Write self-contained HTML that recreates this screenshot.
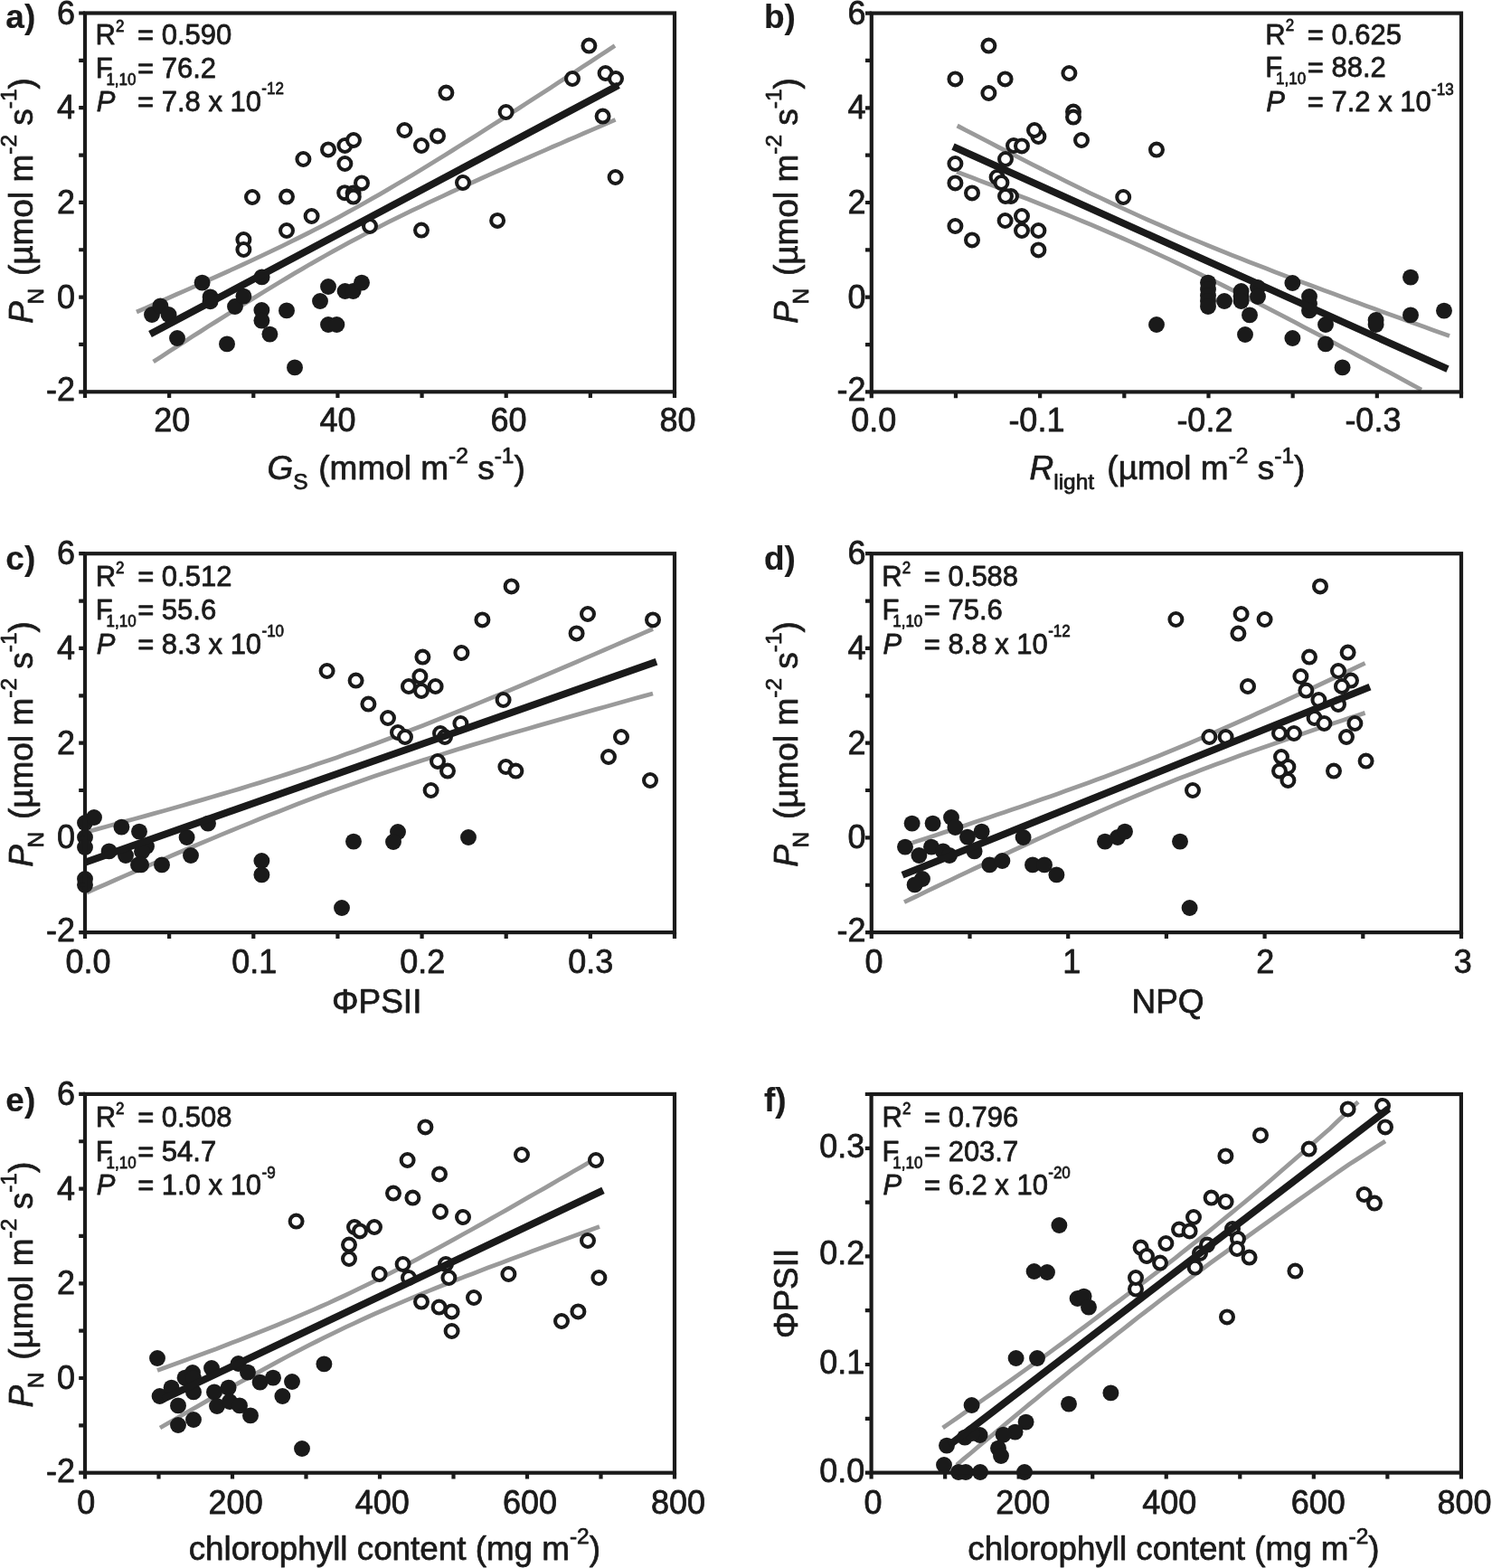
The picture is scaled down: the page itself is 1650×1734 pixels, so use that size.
<!DOCTYPE html>
<html lang="en"><head><meta charset="utf-8"><title>Figure</title>
<style>html,body{margin:0;padding:0;background:#fff}svg{display:block}</style></head>
<body>
<svg width="1650" height="1734" viewBox="0 0 1650 1734" font-family="Liberation Sans, Arial, Helvetica, sans-serif" fill="#1a1a1a">
<style>text{stroke:#1a1a1a;stroke-width:0.75px;stroke-linejoin:round} .b{stroke-width:0.2px}</style>
<rect width="1650" height="1734" fill="#fff"/>
<defs>
<clipPath id="ca"><rect x="94.0" y="14.5" width="652.0" height="418.8"/></clipPath>
<clipPath id="cb"><rect x="963.8" y="14.6" width="652.2" height="418.79999999999995"/></clipPath>
<clipPath id="cc"><rect x="94.0" y="612.2" width="652.0" height="418.89999999999986"/></clipPath>
<clipPath id="cd"><rect x="963.8" y="612.2" width="652.2" height="418.89999999999986"/></clipPath>
<clipPath id="ce"><rect x="94.0" y="1209.9" width="652.0" height="418.79999999999995"/></clipPath>
<clipPath id="cf"><rect x="963.6" y="1210.0" width="652.3000000000001" height="418.5999999999999"/></clipPath>
</defs>
<g id="panel-a">
<path d="M151.0 345.0 L160.0 341.1 L168.9 337.2 L177.9 333.2 L186.9 329.3 L195.8 325.3 L204.8 321.4 L213.8 317.4 L222.7 313.4 L231.7 309.3 L240.7 305.3 L249.6 301.2 L258.6 297.1 L267.6 293.0 L276.5 288.8 L285.5 284.6 L294.5 280.4 L303.4 276.1 L312.4 271.8 L321.4 267.4 L330.3 263.0 L339.3 258.5 L348.3 253.9 L357.2 249.3 L366.2 244.6 L375.2 239.8 L384.1 234.9 L393.1 230.0 L402.1 225.0 L411.0 219.9 L420.0 214.8 L428.9 209.6 L437.9 204.3 L446.9 199.0 L455.8 193.7 L464.8 188.2 L473.8 182.8 L482.7 177.3 L491.7 171.7 L500.7 166.1 L509.6 160.5 L518.6 154.9 L527.6 149.2 L536.5 143.5 L545.5 137.8 L554.5 132.1 L563.4 126.3 L572.4 120.6 L581.4 114.8 L590.3 109.0 L599.3 103.2 L608.3 97.4 L617.2 91.6 L626.2 85.7 L635.2 79.9 L644.1 74.1 L653.1 68.2 L662.1 62.3 L671.0 56.5 L680.0 50.6" stroke="#9a9a9a" stroke-width="4.8" fill="none" clip-path="url(#ca)"/>
<path d="M169.6 400.0 L178.3 394.4 L186.9 388.8 L195.6 383.2 L204.2 377.7 L212.9 372.1 L221.6 366.6 L230.2 361.1 L238.9 355.6 L247.5 350.2 L256.2 344.7 L264.9 339.3 L273.5 333.9 L282.2 328.6 L290.9 323.3 L299.5 318.0 L308.2 312.8 L316.8 307.6 L325.5 302.4 L334.2 297.4 L342.8 292.3 L351.5 287.4 L360.1 282.5 L368.8 277.6 L377.5 272.9 L386.1 268.2 L394.8 263.6 L403.4 259.0 L412.1 254.5 L420.8 250.1 L429.4 245.7 L438.1 241.4 L446.8 237.2 L455.4 232.9 L464.1 228.8 L472.7 224.7 L481.4 220.6 L490.1 216.6 L498.7 212.5 L507.4 208.6 L516.0 204.6 L524.7 200.7 L533.4 196.8 L542.0 192.9 L550.7 189.0 L559.3 185.2 L568.0 181.3 L576.7 177.5 L585.3 173.7 L594.0 169.9 L602.7 166.1 L611.3 162.3 L620.0 158.6 L628.6 154.8 L637.3 151.1 L646.0 147.3 L654.6 143.6 L663.3 139.9 L671.9 136.1 L680.6 132.4" stroke="#9a9a9a" stroke-width="4.8" fill="none" clip-path="url(#ca)"/>
<circle cx="168.0" cy="348.0" r="8.95" fill="#1a1a1a"/>
<circle cx="177.4" cy="338.4" r="8.95" fill="#1a1a1a"/>
<circle cx="186.6" cy="348.0" r="8.95" fill="#1a1a1a"/>
<circle cx="196.0" cy="374.0" r="8.95" fill="#1a1a1a"/>
<circle cx="223.6" cy="312.6" r="8.95" fill="#1a1a1a"/>
<circle cx="232.6" cy="328.4" r="8.95" fill="#1a1a1a"/>
<circle cx="232.6" cy="333.2" r="8.95" fill="#1a1a1a"/>
<circle cx="251.0" cy="380.4" r="8.95" fill="#1a1a1a"/>
<circle cx="260.0" cy="339.0" r="8.95" fill="#1a1a1a"/>
<circle cx="269.4" cy="327.6" r="8.95" fill="#1a1a1a"/>
<circle cx="289.6" cy="306.4" r="8.95" fill="#1a1a1a"/>
<circle cx="289.4" cy="343.0" r="8.95" fill="#1a1a1a"/>
<circle cx="289.4" cy="354.6" r="8.95" fill="#1a1a1a"/>
<circle cx="298.4" cy="369.6" r="8.95" fill="#1a1a1a"/>
<circle cx="317.0" cy="343.4" r="8.95" fill="#1a1a1a"/>
<circle cx="326.0" cy="406.4" r="8.95" fill="#1a1a1a"/>
<circle cx="354.0" cy="333.0" r="8.95" fill="#1a1a1a"/>
<circle cx="363.0" cy="317.0" r="8.95" fill="#1a1a1a"/>
<circle cx="363.0" cy="359.0" r="8.95" fill="#1a1a1a"/>
<circle cx="372.4" cy="359.0" r="8.95" fill="#1a1a1a"/>
<circle cx="381.6" cy="322.0" r="8.95" fill="#1a1a1a"/>
<circle cx="390.6" cy="322.0" r="8.95" fill="#1a1a1a"/>
<circle cx="400.0" cy="312.6" r="8.95" fill="#1a1a1a"/>
<circle cx="269.4" cy="265.0" r="6.95" fill="#fff" stroke="#1a1a1a" stroke-width="4.1"/>
<circle cx="269.4" cy="276.0" r="6.95" fill="#fff" stroke="#1a1a1a" stroke-width="4.1"/>
<circle cx="317.0" cy="255.0" r="6.95" fill="#fff" stroke="#1a1a1a" stroke-width="4.1"/>
<circle cx="344.6" cy="239.0" r="6.95" fill="#fff" stroke="#1a1a1a" stroke-width="4.1"/>
<circle cx="409.0" cy="250.0" r="6.95" fill="#fff" stroke="#1a1a1a" stroke-width="4.1"/>
<circle cx="279.0" cy="218.0" r="6.95" fill="#fff" stroke="#1a1a1a" stroke-width="4.1"/>
<circle cx="317.0" cy="217.6" r="6.95" fill="#fff" stroke="#1a1a1a" stroke-width="4.1"/>
<circle cx="335.4" cy="176.0" r="6.95" fill="#fff" stroke="#1a1a1a" stroke-width="4.1"/>
<circle cx="363.0" cy="165.4" r="6.95" fill="#fff" stroke="#1a1a1a" stroke-width="4.1"/>
<circle cx="381.4" cy="161.0" r="6.95" fill="#fff" stroke="#1a1a1a" stroke-width="4.1"/>
<circle cx="391.0" cy="155.0" r="6.95" fill="#fff" stroke="#1a1a1a" stroke-width="4.1"/>
<circle cx="381.4" cy="181.0" r="6.95" fill="#fff" stroke="#1a1a1a" stroke-width="4.1"/>
<circle cx="381.2" cy="213.2" r="6.95" fill="#fff" stroke="#1a1a1a" stroke-width="4.1"/>
<circle cx="390.6" cy="213.6" r="6.95" fill="#fff" stroke="#1a1a1a" stroke-width="4.1"/>
<circle cx="390.8" cy="217.6" r="6.95" fill="#fff" stroke="#1a1a1a" stroke-width="4.1"/>
<circle cx="400.0" cy="202.4" r="6.95" fill="#fff" stroke="#1a1a1a" stroke-width="4.1"/>
<circle cx="447.4" cy="144.0" r="6.95" fill="#fff" stroke="#1a1a1a" stroke-width="4.1"/>
<circle cx="466.0" cy="161.0" r="6.95" fill="#fff" stroke="#1a1a1a" stroke-width="4.1"/>
<circle cx="484.0" cy="150.4" r="6.95" fill="#fff" stroke="#1a1a1a" stroke-width="4.1"/>
<circle cx="493.4" cy="102.6" r="6.95" fill="#fff" stroke="#1a1a1a" stroke-width="4.1"/>
<circle cx="512.0" cy="202.0" r="6.95" fill="#fff" stroke="#1a1a1a" stroke-width="4.1"/>
<circle cx="559.6" cy="124.0" r="6.95" fill="#fff" stroke="#1a1a1a" stroke-width="4.1"/>
<circle cx="633.0" cy="87.0" r="6.95" fill="#fff" stroke="#1a1a1a" stroke-width="4.1"/>
<circle cx="651.4" cy="50.6" r="6.95" fill="#fff" stroke="#1a1a1a" stroke-width="4.1"/>
<circle cx="669.6" cy="81.0" r="6.95" fill="#fff" stroke="#1a1a1a" stroke-width="4.1"/>
<circle cx="681.0" cy="87.0" r="6.95" fill="#fff" stroke="#1a1a1a" stroke-width="4.1"/>
<circle cx="666.6" cy="128.6" r="6.95" fill="#fff" stroke="#1a1a1a" stroke-width="4.1"/>
<circle cx="680.6" cy="196.0" r="6.95" fill="#fff" stroke="#1a1a1a" stroke-width="4.1"/>
<circle cx="466.0" cy="254.6" r="6.95" fill="#fff" stroke="#1a1a1a" stroke-width="4.1"/>
<circle cx="550.1" cy="243.9" r="6.95" fill="#fff" stroke="#1a1a1a" stroke-width="4.1"/>
<line x1="166" y1="369.60" x2="684" y2="94.20" stroke="#1a1a1a" stroke-width="7.9"/>
<rect x="94.00" y="14.50" width="652.00" height="418.80" fill="none" stroke="#1a1a1a" stroke-width="4.2"/>
<path d="M94.00 433.30v6.8M187.14 433.30v6.8M280.29 433.30v6.8M373.43 433.30v6.8M466.57 433.30v6.8M559.71 433.30v6.8M652.86 433.30v6.8M746.00 433.30v6.8M94.00 14.50h-6.8M94.00 66.85h-6.8M94.00 119.20h-6.8M94.00 171.55h-6.8M94.00 223.90h-6.8M94.00 276.25h-6.8M94.00 328.60h-6.8M94.00 380.95h-6.8M94.00 433.30h-6.8" stroke="#1a1a1a" stroke-width="4.2" fill="none"/>
<text transform="translate(170.20,476.90) scale(1,1.04)" font-size="36" text-anchor="start">20</text>
<text transform="translate(353.59,476.90) scale(1,1.04)" font-size="36" text-anchor="start">40</text>
<text transform="translate(542.60,476.90) scale(1,1.04)" font-size="36" text-anchor="start">60</text>
<text transform="translate(729.47,476.90) scale(1,1.04)" font-size="36" text-anchor="start">80</text>
<text transform="translate(83.00,26.50) scale(1,1.04)" font-size="36" text-anchor="end">6</text>
<text transform="translate(83.00,131.20) scale(1,1.04)" font-size="36" text-anchor="end">4</text>
<text transform="translate(83.00,235.90) scale(1,1.04)" font-size="36" text-anchor="end">2</text>
<text transform="translate(83.00,340.60) scale(1,1.04)" font-size="36" text-anchor="end">0</text>
<text transform="translate(83.00,443.10) scale(1,1.04)" font-size="36" text-anchor="end">-2</text>
</g>
<g id="panel-b">
<path d="M1058.6 139.0 L1067.8 143.8 L1077.1 148.6 L1086.3 153.4 L1095.5 158.2 L1104.7 163.0 L1114.0 167.7 L1123.2 172.4 L1132.4 177.1 L1141.6 181.8 L1150.9 186.5 L1160.1 191.1 L1169.3 195.7 L1178.6 200.3 L1187.8 204.8 L1197.0 209.3 L1206.2 213.8 L1215.5 218.2 L1224.7 222.5 L1233.9 226.9 L1243.1 231.2 L1252.4 235.4 L1261.6 239.6 L1270.8 243.7 L1280.1 247.8 L1289.3 251.8 L1298.5 255.8 L1307.7 259.7 L1317.0 263.6 L1326.2 267.4 L1335.4 271.2 L1344.6 275.0 L1353.9 278.7 L1363.1 282.4 L1372.3 286.0 L1381.5 289.7 L1390.8 293.3 L1400.0 296.8 L1409.2 300.4 L1418.5 303.9 L1427.7 307.4 L1436.9 310.9 L1446.1 314.3 L1455.4 317.8 L1464.6 321.2 L1473.8 324.6 L1483.0 328.0 L1492.3 331.4 L1501.5 334.8 L1510.7 338.2 L1520.0 341.6 L1529.2 344.9 L1538.4 348.3 L1547.6 351.6 L1556.9 355.0 L1566.1 358.3 L1575.3 361.6 L1584.5 365.0 L1593.8 368.3 L1603.0 371.6" stroke="#9a9a9a" stroke-width="4.8" fill="none" clip-path="url(#cb)"/>
<path d="M1058.0 190.0 L1066.7 193.3 L1075.4 196.6 L1084.1 199.9 L1092.8 203.2 L1101.6 206.6 L1110.3 209.9 L1119.0 213.3 L1127.7 216.7 L1136.4 220.1 L1145.1 223.6 L1153.8 227.0 L1162.5 230.5 L1171.3 234.0 L1180.0 237.5 L1188.7 241.1 L1197.4 244.7 L1206.1 248.3 L1214.8 252.0 L1223.5 255.7 L1232.2 259.5 L1240.9 263.3 L1249.7 267.1 L1258.4 271.0 L1267.1 274.9 L1275.8 278.9 L1284.5 282.9 L1293.2 286.9 L1301.9 291.0 L1310.6 295.2 L1319.4 299.4 L1328.1 303.6 L1336.8 307.9 L1345.5 312.2 L1354.2 316.5 L1362.9 320.9 L1371.6 325.3 L1380.3 329.7 L1389.1 334.1 L1397.8 338.6 L1406.5 343.1 L1415.2 347.6 L1423.9 352.2 L1432.6 356.7 L1441.3 361.3 L1450.0 365.9 L1458.7 370.4 L1467.5 375.1 L1476.2 379.7 L1484.9 384.3 L1493.6 388.9 L1502.3 393.6 L1511.0 398.2 L1519.7 402.9 L1528.4 407.6 L1537.2 412.2 L1545.9 416.9 L1554.6 421.6 L1563.3 426.3 L1572.0 431.0" stroke="#9a9a9a" stroke-width="4.8" fill="none" clip-path="url(#cb)"/>
<circle cx="1093.4" cy="50.6" r="6.95" fill="#fff" stroke="#1a1a1a" stroke-width="4.1"/>
<circle cx="1056.4" cy="87.4" r="6.95" fill="#fff" stroke="#1a1a1a" stroke-width="4.1"/>
<circle cx="1111.6" cy="87.4" r="6.95" fill="#fff" stroke="#1a1a1a" stroke-width="4.1"/>
<circle cx="1093.4" cy="103.0" r="6.95" fill="#fff" stroke="#1a1a1a" stroke-width="4.1"/>
<circle cx="1182.4" cy="81.0" r="6.95" fill="#fff" stroke="#1a1a1a" stroke-width="4.1"/>
<circle cx="1187.0" cy="123.6" r="6.95" fill="#fff" stroke="#1a1a1a" stroke-width="4.1"/>
<circle cx="1187.0" cy="129.6" r="6.95" fill="#fff" stroke="#1a1a1a" stroke-width="4.1"/>
<circle cx="1148.4" cy="151.0" r="6.95" fill="#fff" stroke="#1a1a1a" stroke-width="4.1"/>
<circle cx="1144.0" cy="144.0" r="6.95" fill="#fff" stroke="#1a1a1a" stroke-width="4.1"/>
<circle cx="1196.0" cy="155.0" r="6.95" fill="#fff" stroke="#1a1a1a" stroke-width="4.1"/>
<circle cx="1121.0" cy="161.0" r="6.95" fill="#fff" stroke="#1a1a1a" stroke-width="4.1"/>
<circle cx="1130.0" cy="161.4" r="6.95" fill="#fff" stroke="#1a1a1a" stroke-width="4.1"/>
<circle cx="1279.0" cy="165.6" r="6.95" fill="#fff" stroke="#1a1a1a" stroke-width="4.1"/>
<circle cx="1112.0" cy="176.0" r="6.95" fill="#fff" stroke="#1a1a1a" stroke-width="4.1"/>
<circle cx="1056.4" cy="181.0" r="6.95" fill="#fff" stroke="#1a1a1a" stroke-width="4.1"/>
<circle cx="1102.6" cy="196.0" r="6.95" fill="#fff" stroke="#1a1a1a" stroke-width="4.1"/>
<circle cx="1107.4" cy="202.0" r="6.95" fill="#fff" stroke="#1a1a1a" stroke-width="4.1"/>
<circle cx="1056.4" cy="202.4" r="6.95" fill="#fff" stroke="#1a1a1a" stroke-width="4.1"/>
<circle cx="1075.0" cy="213.4" r="6.95" fill="#fff" stroke="#1a1a1a" stroke-width="4.1"/>
<circle cx="1118.0" cy="217.0" r="6.95" fill="#fff" stroke="#1a1a1a" stroke-width="4.1"/>
<circle cx="1112.0" cy="217.0" r="6.95" fill="#fff" stroke="#1a1a1a" stroke-width="4.1"/>
<circle cx="1242.2" cy="218.0" r="6.95" fill="#fff" stroke="#1a1a1a" stroke-width="4.1"/>
<circle cx="1056.4" cy="250.0" r="6.95" fill="#fff" stroke="#1a1a1a" stroke-width="4.1"/>
<circle cx="1075.0" cy="265.4" r="6.95" fill="#fff" stroke="#1a1a1a" stroke-width="4.1"/>
<circle cx="1111.6" cy="244.0" r="6.95" fill="#fff" stroke="#1a1a1a" stroke-width="4.1"/>
<circle cx="1130.0" cy="239.0" r="6.95" fill="#fff" stroke="#1a1a1a" stroke-width="4.1"/>
<circle cx="1130.0" cy="255.0" r="6.95" fill="#fff" stroke="#1a1a1a" stroke-width="4.1"/>
<circle cx="1148.4" cy="255.0" r="6.95" fill="#fff" stroke="#1a1a1a" stroke-width="4.1"/>
<circle cx="1148.4" cy="276.4" r="6.95" fill="#fff" stroke="#1a1a1a" stroke-width="4.1"/>
<circle cx="1279.0" cy="359.0" r="8.95" fill="#1a1a1a"/>
<circle cx="1336.0" cy="312.6" r="8.95" fill="#1a1a1a"/>
<circle cx="1336.0" cy="320.0" r="8.95" fill="#1a1a1a"/>
<circle cx="1336.0" cy="327.0" r="8.95" fill="#1a1a1a"/>
<circle cx="1336.0" cy="333.0" r="8.95" fill="#1a1a1a"/>
<circle cx="1336.0" cy="339.0" r="8.95" fill="#1a1a1a"/>
<circle cx="1354.0" cy="333.0" r="8.95" fill="#1a1a1a"/>
<circle cx="1372.6" cy="322.0" r="8.95" fill="#1a1a1a"/>
<circle cx="1372.6" cy="327.5" r="8.95" fill="#1a1a1a"/>
<circle cx="1372.6" cy="333.0" r="8.95" fill="#1a1a1a"/>
<circle cx="1382.0" cy="348.4" r="8.95" fill="#1a1a1a"/>
<circle cx="1377.0" cy="370.0" r="8.95" fill="#1a1a1a"/>
<circle cx="1391.0" cy="318.0" r="8.95" fill="#1a1a1a"/>
<circle cx="1391.0" cy="328.0" r="8.95" fill="#1a1a1a"/>
<circle cx="1429.4" cy="313.0" r="8.95" fill="#1a1a1a"/>
<circle cx="1429.4" cy="374.0" r="8.95" fill="#1a1a1a"/>
<circle cx="1448.0" cy="328.0" r="8.95" fill="#1a1a1a"/>
<circle cx="1448.0" cy="336.0" r="8.95" fill="#1a1a1a"/>
<circle cx="1448.0" cy="343.4" r="8.95" fill="#1a1a1a"/>
<circle cx="1466.0" cy="359.0" r="8.95" fill="#1a1a1a"/>
<circle cx="1466.0" cy="380.4" r="8.95" fill="#1a1a1a"/>
<circle cx="1484.6" cy="406.4" r="8.95" fill="#1a1a1a"/>
<circle cx="1521.6" cy="354.0" r="8.95" fill="#1a1a1a"/>
<circle cx="1521.6" cy="359.0" r="8.95" fill="#1a1a1a"/>
<circle cx="1560.0" cy="306.6" r="8.95" fill="#1a1a1a"/>
<circle cx="1560.0" cy="348.4" r="8.95" fill="#1a1a1a"/>
<circle cx="1597.0" cy="343.6" r="8.95" fill="#1a1a1a"/>
<line x1="1054" y1="162.20" x2="1601" y2="408.20" stroke="#1a1a1a" stroke-width="7.9"/>
<rect x="963.80" y="14.60" width="652.20" height="418.80" fill="none" stroke="#1a1a1a" stroke-width="4.2"/>
<path d="M963.80 433.40v6.8M1056.97 433.40v6.8M1150.14 433.40v6.8M1243.31 433.40v6.8M1336.49 433.40v6.8M1429.66 433.40v6.8M1522.83 433.40v6.8M1616.00 433.40v6.8M963.80 14.60h-6.8M963.80 66.95h-6.8M963.80 119.30h-6.8M963.80 171.65h-6.8M963.80 224.00h-6.8M963.80 276.35h-6.8M963.80 328.70h-6.8M963.80 381.05h-6.8M963.80 433.40h-6.8" stroke="#1a1a1a" stroke-width="4.2" fill="none"/>
<text transform="translate(941.26,477.00) scale(1,1.04)" font-size="36" text-anchor="start">0.0</text>
<text transform="translate(1115.38,477.00) scale(1,1.04)" font-size="36" text-anchor="start">-0.1</text>
<text transform="translate(1301.38,477.00) scale(1,1.04)" font-size="36" text-anchor="start">-0.2</text>
<text transform="translate(1487.38,477.00) scale(1,1.04)" font-size="36" text-anchor="start">-0.3</text>
<text transform="translate(957.40,26.60) scale(1,1.04)" font-size="36" text-anchor="end">6</text>
<text transform="translate(957.40,131.30) scale(1,1.04)" font-size="36" text-anchor="end">4</text>
<text transform="translate(957.40,236.00) scale(1,1.04)" font-size="36" text-anchor="end">2</text>
<text transform="translate(957.40,340.70) scale(1,1.04)" font-size="36" text-anchor="end">0</text>
<text transform="translate(957.40,443.20) scale(1,1.04)" font-size="36" text-anchor="end">-2</text>
</g>
<g id="panel-c">
<path d="M96.0 920.0 L106.6 917.1 L117.2 914.2 L127.8 911.3 L138.4 908.4 L149.1 905.5 L159.7 902.6 L170.3 899.6 L180.9 896.7 L191.5 893.7 L202.1 890.7 L212.7 887.6 L223.3 884.6 L233.9 881.5 L244.5 878.4 L255.2 875.2 L265.8 872.1 L276.4 868.8 L287.0 865.6 L297.6 862.3 L308.2 859.0 L318.8 855.6 L329.4 852.1 L340.0 848.7 L350.6 845.1 L361.3 841.5 L371.9 837.9 L382.5 834.1 L393.1 830.4 L403.7 826.6 L414.3 822.7 L424.9 818.7 L435.5 814.7 L446.1 810.7 L456.7 806.6 L467.4 802.5 L478.0 798.3 L488.6 794.1 L499.2 789.8 L509.8 785.6 L520.4 781.2 L531.0 776.9 L541.6 772.5 L552.2 768.1 L562.8 763.7 L573.5 759.2 L584.1 754.8 L594.7 750.3 L605.3 745.8 L615.9 741.3 L626.5 736.7 L637.1 732.2 L647.7 727.6 L658.3 723.1 L668.9 718.5 L679.6 713.9 L690.2 709.3 L700.8 704.7 L711.4 700.1 L722.0 695.5" stroke="#9a9a9a" stroke-width="4.8" fill="none" clip-path="url(#cc)"/>
<path d="M96.0 987.0 L106.6 982.3 L117.2 977.7 L127.8 973.0 L138.4 968.4 L149.1 963.8 L159.7 959.2 L170.3 954.6 L180.9 950.1 L191.5 945.5 L202.1 941.0 L212.7 936.5 L223.3 932.0 L233.9 927.6 L244.5 923.1 L255.2 918.8 L265.8 914.4 L276.4 910.1 L287.0 905.8 L297.6 901.6 L308.2 897.4 L318.8 893.2 L329.4 889.1 L340.0 885.1 L350.6 881.1 L361.3 877.1 L371.9 873.3 L382.5 869.4 L393.1 865.7 L403.7 862.0 L414.3 858.3 L424.9 854.7 L435.5 851.2 L446.1 847.7 L456.7 844.2 L467.4 840.8 L478.0 837.5 L488.6 834.2 L499.2 830.9 L509.8 827.6 L520.4 824.4 L531.0 821.2 L541.6 818.1 L552.2 814.9 L562.8 811.8 L573.5 808.7 L584.1 805.7 L594.7 802.6 L605.3 799.6 L615.9 796.6 L626.5 793.6 L637.1 790.6 L647.7 787.6 L658.3 784.6 L668.9 781.7 L679.6 778.7 L690.2 775.8 L700.8 772.8 L711.4 769.9 L722.0 767.0" stroke="#9a9a9a" stroke-width="4.8" fill="none" clip-path="url(#cc)"/>
<circle cx="94.0" cy="910.0" r="8.95" fill="#1a1a1a"/>
<circle cx="94.0" cy="926.0" r="8.95" fill="#1a1a1a"/>
<circle cx="94.0" cy="937.0" r="8.95" fill="#1a1a1a"/>
<circle cx="94.0" cy="972.0" r="8.95" fill="#1a1a1a"/>
<circle cx="94.0" cy="978.6" r="8.95" fill="#1a1a1a"/>
<circle cx="104.0" cy="904.0" r="8.95" fill="#1a1a1a"/>
<circle cx="134.4" cy="914.6" r="8.95" fill="#1a1a1a"/>
<circle cx="154.0" cy="919.6" r="8.95" fill="#1a1a1a"/>
<circle cx="120.6" cy="941.4" r="8.95" fill="#1a1a1a"/>
<circle cx="139.0" cy="946.0" r="8.95" fill="#1a1a1a"/>
<circle cx="162.0" cy="936.0" r="8.95" fill="#1a1a1a"/>
<circle cx="157.0" cy="941.6" r="8.95" fill="#1a1a1a"/>
<circle cx="153.0" cy="956.4" r="8.95" fill="#1a1a1a"/>
<circle cx="156.0" cy="956.4" r="8.95" fill="#1a1a1a"/>
<circle cx="179.0" cy="956.4" r="8.95" fill="#1a1a1a"/>
<circle cx="206.6" cy="926.0" r="8.95" fill="#1a1a1a"/>
<circle cx="211.0" cy="946.0" r="8.95" fill="#1a1a1a"/>
<circle cx="230.0" cy="910.6" r="8.95" fill="#1a1a1a"/>
<circle cx="289.4" cy="952.0" r="8.95" fill="#1a1a1a"/>
<circle cx="289.4" cy="967.4" r="8.95" fill="#1a1a1a"/>
<circle cx="391.0" cy="930.6" r="8.95" fill="#1a1a1a"/>
<circle cx="378.0" cy="1004.0" r="8.95" fill="#1a1a1a"/>
<circle cx="440.0" cy="920.0" r="8.95" fill="#1a1a1a"/>
<circle cx="435.0" cy="931.0" r="8.95" fill="#1a1a1a"/>
<circle cx="518.0" cy="926.0" r="8.95" fill="#1a1a1a"/>
<circle cx="484.0" cy="842.0" r="6.95" fill="#fff" stroke="#1a1a1a" stroke-width="4.1"/>
<circle cx="495.0" cy="852.6" r="6.95" fill="#fff" stroke="#1a1a1a" stroke-width="4.1"/>
<circle cx="476.6" cy="874.0" r="6.95" fill="#fff" stroke="#1a1a1a" stroke-width="4.1"/>
<circle cx="559.4" cy="848.0" r="6.95" fill="#fff" stroke="#1a1a1a" stroke-width="4.1"/>
<circle cx="570.4" cy="852.6" r="6.95" fill="#fff" stroke="#1a1a1a" stroke-width="4.1"/>
<circle cx="673.0" cy="837.0" r="6.95" fill="#fff" stroke="#1a1a1a" stroke-width="4.1"/>
<circle cx="719.0" cy="863.0" r="6.95" fill="#fff" stroke="#1a1a1a" stroke-width="4.1"/>
<circle cx="565.6" cy="648.4" r="6.95" fill="#fff" stroke="#1a1a1a" stroke-width="4.1"/>
<circle cx="533.4" cy="685.4" r="6.95" fill="#fff" stroke="#1a1a1a" stroke-width="4.1"/>
<circle cx="650.0" cy="679.0" r="6.95" fill="#fff" stroke="#1a1a1a" stroke-width="4.1"/>
<circle cx="722.0" cy="685.4" r="6.95" fill="#fff" stroke="#1a1a1a" stroke-width="4.1"/>
<circle cx="637.6" cy="700.4" r="6.95" fill="#fff" stroke="#1a1a1a" stroke-width="4.1"/>
<circle cx="510.4" cy="722.0" r="6.95" fill="#fff" stroke="#1a1a1a" stroke-width="4.1"/>
<circle cx="467.4" cy="726.6" r="6.95" fill="#fff" stroke="#1a1a1a" stroke-width="4.1"/>
<circle cx="464.4" cy="748.0" r="6.95" fill="#fff" stroke="#1a1a1a" stroke-width="4.1"/>
<circle cx="452.0" cy="759.0" r="6.95" fill="#fff" stroke="#1a1a1a" stroke-width="4.1"/>
<circle cx="481.6" cy="759.0" r="6.95" fill="#fff" stroke="#1a1a1a" stroke-width="4.1"/>
<circle cx="466.0" cy="764.0" r="6.95" fill="#fff" stroke="#1a1a1a" stroke-width="4.1"/>
<circle cx="556.6" cy="774.0" r="6.95" fill="#fff" stroke="#1a1a1a" stroke-width="4.1"/>
<circle cx="429.0" cy="794.0" r="6.95" fill="#fff" stroke="#1a1a1a" stroke-width="4.1"/>
<circle cx="509.4" cy="800.0" r="6.95" fill="#fff" stroke="#1a1a1a" stroke-width="4.1"/>
<circle cx="440.0" cy="810.0" r="6.95" fill="#fff" stroke="#1a1a1a" stroke-width="4.1"/>
<circle cx="448.0" cy="815.0" r="6.95" fill="#fff" stroke="#1a1a1a" stroke-width="4.1"/>
<circle cx="487.0" cy="811.0" r="6.95" fill="#fff" stroke="#1a1a1a" stroke-width="4.1"/>
<circle cx="492.0" cy="815.0" r="6.95" fill="#fff" stroke="#1a1a1a" stroke-width="4.1"/>
<circle cx="687.0" cy="815.0" r="6.95" fill="#fff" stroke="#1a1a1a" stroke-width="4.1"/>
<circle cx="361.6" cy="742.0" r="6.95" fill="#fff" stroke="#1a1a1a" stroke-width="4.1"/>
<circle cx="393.6" cy="752.6" r="6.95" fill="#fff" stroke="#1a1a1a" stroke-width="4.1"/>
<circle cx="407.4" cy="778.6" r="6.95" fill="#fff" stroke="#1a1a1a" stroke-width="4.1"/>
<line x1="94" y1="953.70" x2="726" y2="731.70" stroke="#1a1a1a" stroke-width="7.9"/>
<rect x="94.00" y="612.20" width="652.00" height="418.90" fill="none" stroke="#1a1a1a" stroke-width="4.2"/>
<path d="M94.00 1031.10v6.8M187.14 1031.10v6.8M280.29 1031.10v6.8M373.43 1031.10v6.8M466.57 1031.10v6.8M559.71 1031.10v6.8M652.86 1031.10v6.8M746.00 1031.10v6.8M94.00 612.20h-6.8M94.00 664.56h-6.8M94.00 716.92h-6.8M94.00 769.29h-6.8M94.00 821.65h-6.8M94.00 874.01h-6.8M94.00 926.38h-6.8M94.00 978.74h-6.8M94.00 1031.10h-6.8" stroke="#1a1a1a" stroke-width="4.2" fill="none"/>
<text transform="translate(72.56,1075.60) scale(1,1.04)" font-size="36" text-anchor="start">0.0</text>
<text transform="translate(256.16,1075.60) scale(1,1.04)" font-size="36" text-anchor="start">0.1</text>
<text transform="translate(442.16,1075.60) scale(1,1.04)" font-size="36" text-anchor="start">0.2</text>
<text transform="translate(628.16,1075.60) scale(1,1.04)" font-size="36" text-anchor="start">0.3</text>
<text transform="translate(83.00,624.20) scale(1,1.04)" font-size="36" text-anchor="end">6</text>
<text transform="translate(83.00,728.92) scale(1,1.04)" font-size="36" text-anchor="end">4</text>
<text transform="translate(83.00,833.65) scale(1,1.04)" font-size="36" text-anchor="end">2</text>
<text transform="translate(83.00,938.38) scale(1,1.04)" font-size="36" text-anchor="end">0</text>
<text transform="translate(83.00,1040.90) scale(1,1.04)" font-size="36" text-anchor="end">-2</text>
</g>
<g id="panel-d">
<path d="M1009.0 932.0 L1017.5 929.2 L1026.0 926.5 L1034.5 923.7 L1042.9 920.9 L1051.4 918.1 L1059.9 915.3 L1068.4 912.5 L1076.9 909.6 L1085.4 906.8 L1093.8 904.0 L1102.3 901.1 L1110.8 898.2 L1119.3 895.3 L1127.8 892.4 L1136.3 889.5 L1144.8 886.6 L1153.2 883.6 L1161.7 880.7 L1170.2 877.7 L1178.7 874.6 L1187.2 871.6 L1195.7 868.5 L1204.1 865.5 L1212.6 862.3 L1221.1 859.2 L1229.6 856.0 L1238.1 852.8 L1246.6 849.5 L1255.1 846.2 L1263.5 842.9 L1272.0 839.6 L1280.5 836.2 L1289.0 832.7 L1297.5 829.3 L1306.0 825.8 L1314.5 822.2 L1322.9 818.6 L1331.4 815.0 L1339.9 811.4 L1348.4 807.7 L1356.9 804.0 L1365.4 800.2 L1373.8 796.5 L1382.3 792.7 L1390.8 788.8 L1399.3 785.0 L1407.8 781.1 L1416.3 777.2 L1424.8 773.3 L1433.2 769.4 L1441.7 765.4 L1450.2 761.5 L1458.7 757.5 L1467.2 753.5 L1475.7 749.5 L1484.1 745.5 L1492.6 741.5 L1501.1 737.4 L1509.6 733.4" stroke="#9a9a9a" stroke-width="4.8" fill="none" clip-path="url(#cd)"/>
<path d="M1000.0 997.6 L1008.6 993.5 L1017.3 989.3 L1025.9 985.2 L1034.5 981.0 L1043.2 976.9 L1051.8 972.8 L1060.5 968.7 L1069.1 964.6 L1077.7 960.5 L1086.4 956.5 L1095.0 952.4 L1103.6 948.3 L1112.3 944.3 L1120.9 940.3 L1129.6 936.3 L1138.2 932.3 L1146.8 928.3 L1155.5 924.4 L1164.1 920.4 L1172.7 916.5 L1181.4 912.7 L1190.0 908.8 L1198.7 905.0 L1207.3 901.2 L1215.9 897.4 L1224.6 893.6 L1233.2 889.9 L1241.8 886.3 L1250.5 882.6 L1259.1 879.0 L1267.8 875.5 L1276.4 871.9 L1285.0 868.5 L1293.7 865.0 L1302.3 861.6 L1310.9 858.2 L1319.6 854.9 L1328.2 851.6 L1336.9 848.3 L1345.5 845.1 L1354.1 841.9 L1362.8 838.8 L1371.4 835.6 L1380.0 832.5 L1388.7 829.5 L1397.3 826.4 L1406.0 823.4 L1414.6 820.4 L1423.2 817.4 L1431.9 814.4 L1440.5 811.5 L1449.1 808.6 L1457.8 805.6 L1466.4 802.7 L1475.1 799.8 L1483.7 797.0 L1492.3 794.1 L1501.0 791.2 L1509.6 788.4" stroke="#9a9a9a" stroke-width="4.8" fill="none" clip-path="url(#cd)"/>
<circle cx="1008.6" cy="910.6" r="8.95" fill="#1a1a1a"/>
<circle cx="1031.6" cy="910.6" r="8.95" fill="#1a1a1a"/>
<circle cx="1052.0" cy="904.0" r="8.95" fill="#1a1a1a"/>
<circle cx="1056.4" cy="915.0" r="8.95" fill="#1a1a1a"/>
<circle cx="1070.0" cy="925.6" r="8.95" fill="#1a1a1a"/>
<circle cx="1085.6" cy="919.6" r="8.95" fill="#1a1a1a"/>
<circle cx="1001.0" cy="936.6" r="8.95" fill="#1a1a1a"/>
<circle cx="1030.0" cy="936.6" r="8.95" fill="#1a1a1a"/>
<circle cx="1016.4" cy="946.0" r="8.95" fill="#1a1a1a"/>
<circle cx="1043.0" cy="941.4" r="8.95" fill="#1a1a1a"/>
<circle cx="1050.0" cy="946.0" r="8.95" fill="#1a1a1a"/>
<circle cx="1077.6" cy="941.4" r="8.95" fill="#1a1a1a"/>
<circle cx="1131.6" cy="926.0" r="8.95" fill="#1a1a1a"/>
<circle cx="1094.4" cy="956.4" r="8.95" fill="#1a1a1a"/>
<circle cx="1108.4" cy="952.0" r="8.95" fill="#1a1a1a"/>
<circle cx="1142.0" cy="956.4" r="8.95" fill="#1a1a1a"/>
<circle cx="1155.0" cy="956.4" r="8.95" fill="#1a1a1a"/>
<circle cx="1168.4" cy="967.4" r="8.95" fill="#1a1a1a"/>
<circle cx="1020.0" cy="972.0" r="8.95" fill="#1a1a1a"/>
<circle cx="1011.6" cy="978.4" r="8.95" fill="#1a1a1a"/>
<circle cx="1222.0" cy="930.6" r="8.95" fill="#1a1a1a"/>
<circle cx="1236.0" cy="926.0" r="8.95" fill="#1a1a1a"/>
<circle cx="1244.0" cy="919.6" r="8.95" fill="#1a1a1a"/>
<circle cx="1305.0" cy="930.6" r="8.95" fill="#1a1a1a"/>
<circle cx="1315.6" cy="1004.0" r="8.95" fill="#1a1a1a"/>
<circle cx="1319.0" cy="874.0" r="6.95" fill="#fff" stroke="#1a1a1a" stroke-width="4.1"/>
<circle cx="1417.0" cy="837.0" r="6.95" fill="#fff" stroke="#1a1a1a" stroke-width="4.1"/>
<circle cx="1424.4" cy="848.0" r="6.95" fill="#fff" stroke="#1a1a1a" stroke-width="4.1"/>
<circle cx="1415.0" cy="852.6" r="6.95" fill="#fff" stroke="#1a1a1a" stroke-width="4.1"/>
<circle cx="1424.4" cy="863.0" r="6.95" fill="#fff" stroke="#1a1a1a" stroke-width="4.1"/>
<circle cx="1475.0" cy="852.6" r="6.95" fill="#fff" stroke="#1a1a1a" stroke-width="4.1"/>
<circle cx="1510.6" cy="841.6" r="6.95" fill="#fff" stroke="#1a1a1a" stroke-width="4.1"/>
<circle cx="1460.0" cy="648.4" r="6.95" fill="#fff" stroke="#1a1a1a" stroke-width="4.1"/>
<circle cx="1300.4" cy="685.0" r="6.95" fill="#fff" stroke="#1a1a1a" stroke-width="4.1"/>
<circle cx="1372.6" cy="679.0" r="6.95" fill="#fff" stroke="#1a1a1a" stroke-width="4.1"/>
<circle cx="1398.6" cy="685.0" r="6.95" fill="#fff" stroke="#1a1a1a" stroke-width="4.1"/>
<circle cx="1369.4" cy="700.6" r="6.95" fill="#fff" stroke="#1a1a1a" stroke-width="4.1"/>
<circle cx="1448.0" cy="726.6" r="6.95" fill="#fff" stroke="#1a1a1a" stroke-width="4.1"/>
<circle cx="1490.6" cy="721.6" r="6.95" fill="#fff" stroke="#1a1a1a" stroke-width="4.1"/>
<circle cx="1480.0" cy="742.0" r="6.95" fill="#fff" stroke="#1a1a1a" stroke-width="4.1"/>
<circle cx="1438.4" cy="748.0" r="6.95" fill="#fff" stroke="#1a1a1a" stroke-width="4.1"/>
<circle cx="1494.0" cy="752.6" r="6.95" fill="#fff" stroke="#1a1a1a" stroke-width="4.1"/>
<circle cx="1484.0" cy="759.0" r="6.95" fill="#fff" stroke="#1a1a1a" stroke-width="4.1"/>
<circle cx="1380.0" cy="759.0" r="6.95" fill="#fff" stroke="#1a1a1a" stroke-width="4.1"/>
<circle cx="1444.4" cy="763.6" r="6.95" fill="#fff" stroke="#1a1a1a" stroke-width="4.1"/>
<circle cx="1458.4" cy="774.0" r="6.95" fill="#fff" stroke="#1a1a1a" stroke-width="4.1"/>
<circle cx="1480.0" cy="779.0" r="6.95" fill="#fff" stroke="#1a1a1a" stroke-width="4.1"/>
<circle cx="1453.6" cy="794.0" r="6.95" fill="#fff" stroke="#1a1a1a" stroke-width="4.1"/>
<circle cx="1464.4" cy="800.0" r="6.95" fill="#fff" stroke="#1a1a1a" stroke-width="4.1"/>
<circle cx="1498.4" cy="800.0" r="6.95" fill="#fff" stroke="#1a1a1a" stroke-width="4.1"/>
<circle cx="1337.4" cy="815.0" r="6.95" fill="#fff" stroke="#1a1a1a" stroke-width="4.1"/>
<circle cx="1355.6" cy="815.0" r="6.95" fill="#fff" stroke="#1a1a1a" stroke-width="4.1"/>
<circle cx="1415.0" cy="811.0" r="6.95" fill="#fff" stroke="#1a1a1a" stroke-width="4.1"/>
<circle cx="1431.0" cy="811.0" r="6.95" fill="#fff" stroke="#1a1a1a" stroke-width="4.1"/>
<circle cx="1489.0" cy="815.0" r="6.95" fill="#fff" stroke="#1a1a1a" stroke-width="4.1"/>
<line x1="998" y1="967.70" x2="1515" y2="759.70" stroke="#1a1a1a" stroke-width="7.9"/>
<rect x="963.80" y="612.20" width="652.20" height="418.90" fill="none" stroke="#1a1a1a" stroke-width="4.2"/>
<path d="M963.80 1031.10v6.8M1072.50 1031.10v6.8M1181.20 1031.10v6.8M1289.90 1031.10v6.8M1398.60 1031.10v6.8M1507.30 1031.10v6.8M1616.00 1031.10v6.8M963.80 612.20h-6.8M963.80 664.56h-6.8M963.80 716.92h-6.8M963.80 769.29h-6.8M963.80 821.65h-6.8M963.80 874.01h-6.8M963.80 926.38h-6.8M963.80 978.74h-6.8M963.80 1031.10h-6.8" stroke="#1a1a1a" stroke-width="4.2" fill="none"/>
<text transform="translate(956.56,1075.60) scale(1,1.04)" font-size="36" text-anchor="start">0</text>
<text transform="translate(1175.30,1075.60) scale(1,1.04)" font-size="36" text-anchor="start">1</text>
<text transform="translate(1389.20,1075.60) scale(1,1.04)" font-size="36" text-anchor="start">2</text>
<text transform="translate(1607.65,1075.60) scale(1,1.04)" font-size="36" text-anchor="start">3</text>
<text transform="translate(957.40,624.20) scale(1,1.04)" font-size="36" text-anchor="end">6</text>
<text transform="translate(957.40,728.92) scale(1,1.04)" font-size="36" text-anchor="end">4</text>
<text transform="translate(957.40,833.65) scale(1,1.04)" font-size="36" text-anchor="end">2</text>
<text transform="translate(957.40,938.38) scale(1,1.04)" font-size="36" text-anchor="end">0</text>
<text transform="translate(957.40,1040.90) scale(1,1.04)" font-size="36" text-anchor="end">-2</text>
</g>
<g id="panel-e">
<path d="M174.0 1515.6 L182.2 1512.6 L190.4 1509.6 L198.7 1506.6 L206.9 1503.6 L215.1 1500.6 L223.3 1497.5 L231.5 1494.4 L239.8 1491.4 L248.0 1488.2 L256.2 1485.1 L264.4 1482.0 L272.6 1478.8 L280.9 1475.5 L289.1 1472.3 L297.3 1469.0 L305.5 1465.7 L313.7 1462.3 L322.0 1458.9 L330.2 1455.4 L338.4 1451.9 L346.6 1448.4 L354.8 1444.7 L363.1 1441.1 L371.3 1437.3 L379.5 1433.5 L387.7 1429.6 L395.9 1425.7 L404.2 1421.7 L412.4 1417.7 L420.6 1413.6 L428.8 1409.4 L437.1 1405.2 L445.3 1401.0 L453.5 1396.7 L461.7 1392.3 L469.9 1387.9 L478.2 1383.5 L486.4 1379.1 L494.6 1374.6 L502.8 1370.1 L511.0 1365.5 L519.3 1361.0 L527.5 1356.4 L535.7 1351.8 L543.9 1347.1 L552.1 1342.5 L560.4 1337.8 L568.6 1333.1 L576.8 1328.4 L585.0 1323.7 L593.2 1319.0 L601.5 1314.3 L609.7 1309.6 L617.9 1304.8 L626.1 1300.1 L634.3 1295.3 L642.6 1290.6 L650.8 1285.8 L659.0 1281.0" stroke="#9a9a9a" stroke-width="4.8" fill="none" clip-path="url(#ce)"/>
<path d="M177.0 1579.0 L185.2 1574.2 L193.5 1569.5 L201.7 1564.7 L209.9 1560.0 L218.2 1555.3 L226.4 1550.6 L234.7 1545.9 L242.9 1541.2 L251.1 1536.6 L259.4 1531.9 L267.6 1527.4 L275.8 1522.8 L284.1 1518.3 L292.3 1513.8 L300.6 1509.3 L308.8 1504.9 L317.0 1500.5 L325.3 1496.2 L333.5 1491.9 L341.7 1487.7 L350.0 1483.5 L358.2 1479.4 L366.5 1475.4 L374.7 1471.4 L382.9 1467.4 L391.2 1463.6 L399.4 1459.8 L407.6 1456.0 L415.9 1452.3 L424.1 1448.7 L432.4 1445.1 L440.6 1441.6 L448.8 1438.1 L457.1 1434.6 L465.3 1431.3 L473.5 1427.9 L481.8 1424.6 L490.0 1421.3 L498.3 1418.0 L506.5 1414.8 L514.7 1411.6 L523.0 1408.4 L531.2 1405.3 L539.4 1402.1 L547.7 1399.0 L555.9 1395.9 L564.2 1392.8 L572.4 1389.7 L580.6 1386.7 L588.9 1383.6 L597.1 1380.6 L605.3 1377.6 L613.6 1374.6 L621.8 1371.5 L630.1 1368.5 L638.3 1365.5 L646.5 1362.6 L654.8 1359.6 L663.0 1356.6" stroke="#9a9a9a" stroke-width="4.8" fill="none" clip-path="url(#ce)"/>
<circle cx="174.0" cy="1502.0" r="8.95" fill="#1a1a1a"/>
<circle cx="176.6" cy="1544.0" r="8.95" fill="#1a1a1a"/>
<circle cx="189.6" cy="1534.6" r="8.95" fill="#1a1a1a"/>
<circle cx="197.0" cy="1554.4" r="8.95" fill="#1a1a1a"/>
<circle cx="197.0" cy="1576.0" r="8.95" fill="#1a1a1a"/>
<circle cx="204.6" cy="1523.6" r="8.95" fill="#1a1a1a"/>
<circle cx="213.0" cy="1518.0" r="8.95" fill="#1a1a1a"/>
<circle cx="214.0" cy="1524.0" r="8.95" fill="#1a1a1a"/>
<circle cx="214.0" cy="1539.4" r="8.95" fill="#1a1a1a"/>
<circle cx="214.0" cy="1570.0" r="8.95" fill="#1a1a1a"/>
<circle cx="234.0" cy="1513.0" r="8.95" fill="#1a1a1a"/>
<circle cx="237.0" cy="1539.4" r="8.95" fill="#1a1a1a"/>
<circle cx="240.0" cy="1555.0" r="8.95" fill="#1a1a1a"/>
<circle cx="252.6" cy="1534.6" r="8.95" fill="#1a1a1a"/>
<circle cx="254.0" cy="1550.0" r="8.95" fill="#1a1a1a"/>
<circle cx="263.6" cy="1508.0" r="8.95" fill="#1a1a1a"/>
<circle cx="265.0" cy="1554.4" r="8.95" fill="#1a1a1a"/>
<circle cx="274.0" cy="1517.6" r="8.95" fill="#1a1a1a"/>
<circle cx="277.0" cy="1565.4" r="8.95" fill="#1a1a1a"/>
<circle cx="287.6" cy="1528.6" r="8.95" fill="#1a1a1a"/>
<circle cx="302.0" cy="1523.6" r="8.95" fill="#1a1a1a"/>
<circle cx="312.4" cy="1544.0" r="8.95" fill="#1a1a1a"/>
<circle cx="323.0" cy="1528.0" r="8.95" fill="#1a1a1a"/>
<circle cx="358.4" cy="1508.4" r="8.95" fill="#1a1a1a"/>
<circle cx="334.0" cy="1602.0" r="8.95" fill="#1a1a1a"/>
<circle cx="470.4" cy="1246.4" r="6.95" fill="#fff" stroke="#1a1a1a" stroke-width="4.1"/>
<circle cx="450.6" cy="1283.0" r="6.95" fill="#fff" stroke="#1a1a1a" stroke-width="4.1"/>
<circle cx="486.0" cy="1298.4" r="6.95" fill="#fff" stroke="#1a1a1a" stroke-width="4.1"/>
<circle cx="577.0" cy="1277.0" r="6.95" fill="#fff" stroke="#1a1a1a" stroke-width="4.1"/>
<circle cx="435.0" cy="1319.6" r="6.95" fill="#fff" stroke="#1a1a1a" stroke-width="4.1"/>
<circle cx="456.4" cy="1324.6" r="6.95" fill="#fff" stroke="#1a1a1a" stroke-width="4.1"/>
<circle cx="487.0" cy="1340.0" r="6.95" fill="#fff" stroke="#1a1a1a" stroke-width="4.1"/>
<circle cx="512.0" cy="1346.0" r="6.95" fill="#fff" stroke="#1a1a1a" stroke-width="4.1"/>
<circle cx="327.6" cy="1350.6" r="6.95" fill="#fff" stroke="#1a1a1a" stroke-width="4.1"/>
<circle cx="392.0" cy="1357.0" r="6.95" fill="#fff" stroke="#1a1a1a" stroke-width="4.1"/>
<circle cx="398.0" cy="1361.4" r="6.95" fill="#fff" stroke="#1a1a1a" stroke-width="4.1"/>
<circle cx="414.0" cy="1357.0" r="6.95" fill="#fff" stroke="#1a1a1a" stroke-width="4.1"/>
<circle cx="386.0" cy="1376.6" r="6.95" fill="#fff" stroke="#1a1a1a" stroke-width="4.1"/>
<circle cx="386.0" cy="1392.0" r="6.95" fill="#fff" stroke="#1a1a1a" stroke-width="4.1"/>
<circle cx="445.6" cy="1398.0" r="6.95" fill="#fff" stroke="#1a1a1a" stroke-width="4.1"/>
<circle cx="493.0" cy="1398.0" r="6.95" fill="#fff" stroke="#1a1a1a" stroke-width="4.1"/>
<circle cx="419.6" cy="1409.0" r="6.95" fill="#fff" stroke="#1a1a1a" stroke-width="4.1"/>
<circle cx="452.0" cy="1413.0" r="6.95" fill="#fff" stroke="#1a1a1a" stroke-width="4.1"/>
<circle cx="496.4" cy="1413.0" r="6.95" fill="#fff" stroke="#1a1a1a" stroke-width="4.1"/>
<circle cx="562.4" cy="1409.0" r="6.95" fill="#fff" stroke="#1a1a1a" stroke-width="4.1"/>
<circle cx="659.0" cy="1283.0" r="6.95" fill="#fff" stroke="#1a1a1a" stroke-width="4.1"/>
<circle cx="650.0" cy="1372.0" r="6.95" fill="#fff" stroke="#1a1a1a" stroke-width="4.1"/>
<circle cx="662.4" cy="1413.0" r="6.95" fill="#fff" stroke="#1a1a1a" stroke-width="4.1"/>
<circle cx="466.0" cy="1439.6" r="6.95" fill="#fff" stroke="#1a1a1a" stroke-width="4.1"/>
<circle cx="485.6" cy="1445.6" r="6.95" fill="#fff" stroke="#1a1a1a" stroke-width="4.1"/>
<circle cx="499.6" cy="1450.4" r="6.95" fill="#fff" stroke="#1a1a1a" stroke-width="4.1"/>
<circle cx="499.6" cy="1472.0" r="6.95" fill="#fff" stroke="#1a1a1a" stroke-width="4.1"/>
<circle cx="524.0" cy="1435.0" r="6.95" fill="#fff" stroke="#1a1a1a" stroke-width="4.1"/>
<circle cx="621.0" cy="1461.0" r="6.95" fill="#fff" stroke="#1a1a1a" stroke-width="4.1"/>
<circle cx="639.4" cy="1450.4" r="6.95" fill="#fff" stroke="#1a1a1a" stroke-width="4.1"/>
<line x1="180" y1="1547.40" x2="667" y2="1316.40" stroke="#1a1a1a" stroke-width="7.9"/>
<rect x="94.00" y="1209.90" width="652.00" height="418.80" fill="none" stroke="#1a1a1a" stroke-width="4.2"/>
<path d="M94.00 1628.70v6.8M175.50 1628.70v6.8M257.00 1628.70v6.8M338.50 1628.70v6.8M420.00 1628.70v6.8M501.50 1628.70v6.8M583.00 1628.70v6.8M664.50 1628.70v6.8M746.00 1628.70v6.8M94.00 1209.90h-6.8M94.00 1262.25h-6.8M94.00 1314.60h-6.8M94.00 1366.95h-6.8M94.00 1419.30h-6.8M94.00 1471.65h-6.8M94.00 1524.00h-6.8M94.00 1576.35h-6.8M94.00 1628.70h-6.8" stroke="#1a1a1a" stroke-width="4.2" fill="none"/>
<text transform="translate(85.36,1673.70) scale(1,1.04)" font-size="36" text-anchor="start">0</text>
<text transform="translate(230.60,1673.70) scale(1,1.04)" font-size="36" text-anchor="start">200</text>
<text transform="translate(392.69,1673.70) scale(1,1.04)" font-size="36" text-anchor="start">400</text>
<text transform="translate(556.00,1673.70) scale(1,1.04)" font-size="36" text-anchor="start">600</text>
<text transform="translate(719.97,1673.70) scale(1,1.04)" font-size="36" text-anchor="start">800</text>
<text transform="translate(83.00,1221.90) scale(1,1.04)" font-size="36" text-anchor="end">6</text>
<text transform="translate(83.00,1326.60) scale(1,1.04)" font-size="36" text-anchor="end">4</text>
<text transform="translate(83.00,1431.30) scale(1,1.04)" font-size="36" text-anchor="end">2</text>
<text transform="translate(83.00,1536.00) scale(1,1.04)" font-size="36" text-anchor="end">0</text>
<text transform="translate(83.00,1638.50) scale(1,1.04)" font-size="36" text-anchor="end">-2</text>
</g>
<g id="panel-f">
<path d="M1042.6 1579.0 L1050.4 1573.6 L1058.2 1568.2 L1066.0 1562.8 L1073.7 1557.3 L1081.5 1551.9 L1089.3 1546.4 L1097.1 1541.0 L1104.9 1535.5 L1112.7 1530.0 L1120.5 1524.5 L1128.3 1518.9 L1136.0 1513.4 L1143.8 1507.8 L1151.6 1502.2 L1159.4 1496.6 L1167.2 1490.9 L1175.0 1485.2 L1182.8 1479.5 L1190.5 1473.7 L1198.3 1468.0 L1206.1 1462.1 L1213.9 1456.3 L1221.7 1450.4 L1229.5 1444.4 L1237.3 1438.7 L1245.0 1432.9 L1252.8 1427.1 L1260.6 1421.2 L1268.4 1415.3 L1276.2 1409.4 L1284.0 1403.4 L1291.8 1397.3 L1299.6 1391.3 L1307.3 1385.1 L1315.1 1379.0 L1322.9 1372.8 L1330.7 1366.6 L1338.5 1360.3 L1346.3 1354.0 L1354.1 1347.7 L1361.8 1341.3 L1369.6 1335.0 L1377.4 1328.6 L1385.2 1322.2 L1393.0 1315.7 L1400.8 1309.0 L1408.6 1302.2 L1416.3 1295.5 L1424.1 1288.7 L1431.9 1282.0 L1439.7 1275.2 L1447.5 1268.4 L1455.3 1261.6 L1463.1 1254.8 L1470.9 1248.0 L1478.6 1240.6 L1486.4 1233.2 L1494.2 1225.8 L1502.0 1218.4" stroke="#9a9a9a" stroke-width="4.8" fill="none" clip-path="url(#cf)"/>
<path d="M1058.0 1620.0 L1066.0 1613.2 L1074.1 1606.5 L1082.1 1599.7 L1090.1 1593.0 L1098.2 1586.3 L1106.2 1579.5 L1114.2 1572.9 L1122.3 1566.2 L1130.3 1559.5 L1138.3 1552.9 L1146.4 1546.3 L1154.4 1539.7 L1162.4 1533.2 L1170.5 1526.6 L1178.5 1520.2 L1186.5 1513.7 L1194.6 1507.3 L1202.6 1500.9 L1210.6 1494.6 L1218.7 1488.3 L1226.7 1482.0 L1234.7 1475.7 L1242.8 1469.3 L1250.8 1463.0 L1258.8 1456.7 L1266.9 1450.5 L1274.9 1444.3 L1282.9 1438.1 L1291.0 1432.0 L1299.0 1426.0 L1307.1 1420.0 L1315.1 1414.0 L1323.1 1408.1 L1331.2 1402.2 L1339.2 1396.3 L1347.2 1390.5 L1355.3 1384.7 L1363.3 1378.9 L1371.3 1373.2 L1379.4 1367.5 L1387.4 1361.8 L1395.4 1356.0 L1403.5 1350.2 L1411.5 1344.5 L1419.5 1338.8 L1427.6 1333.0 L1435.6 1327.3 L1443.6 1321.6 L1451.7 1315.9 L1459.7 1310.2 L1467.7 1304.6 L1475.8 1298.9 L1483.8 1293.3 L1491.8 1287.7 L1499.9 1282.6 L1507.9 1277.4 L1515.9 1272.3 L1524.0 1267.1 L1532.0 1262.0" stroke="#9a9a9a" stroke-width="4.8" fill="none" clip-path="url(#cf)"/>
<circle cx="1191.6" cy="1436.0" r="8.95" fill="#1a1a1a"/>
<circle cx="1198.6" cy="1433.6" r="8.95" fill="#1a1a1a"/>
<circle cx="1204.0" cy="1445.6" r="8.95" fill="#1a1a1a"/>
<circle cx="1123.6" cy="1502.0" r="8.95" fill="#1a1a1a"/>
<circle cx="1147.0" cy="1502.0" r="8.95" fill="#1a1a1a"/>
<circle cx="1074.6" cy="1554.0" r="8.95" fill="#1a1a1a"/>
<circle cx="1182.0" cy="1552.6" r="8.95" fill="#1a1a1a"/>
<circle cx="1228.4" cy="1540.4" r="8.95" fill="#1a1a1a"/>
<circle cx="1134.6" cy="1572.6" r="8.95" fill="#1a1a1a"/>
<circle cx="1122.6" cy="1583.6" r="8.95" fill="#1a1a1a"/>
<circle cx="1109.6" cy="1586.6" r="8.95" fill="#1a1a1a"/>
<circle cx="1083.6" cy="1587.0" r="8.95" fill="#1a1a1a"/>
<circle cx="1067.0" cy="1589.6" r="8.95" fill="#1a1a1a"/>
<circle cx="1075.0" cy="1585.0" r="8.95" fill="#1a1a1a"/>
<circle cx="1047.0" cy="1598.6" r="8.95" fill="#1a1a1a"/>
<circle cx="1104.0" cy="1601.6" r="8.95" fill="#1a1a1a"/>
<circle cx="1107.0" cy="1610.0" r="8.95" fill="#1a1a1a"/>
<circle cx="1044.0" cy="1620.0" r="8.95" fill="#1a1a1a"/>
<circle cx="1060.0" cy="1628.0" r="8.95" fill="#1a1a1a"/>
<circle cx="1068.0" cy="1628.0" r="8.95" fill="#1a1a1a"/>
<circle cx="1084.0" cy="1628.0" r="8.95" fill="#1a1a1a"/>
<circle cx="1133.0" cy="1628.0" r="8.95" fill="#1a1a1a"/>
<circle cx="1171.4" cy="1355.0" r="8.95" fill="#1a1a1a"/>
<circle cx="1143.6" cy="1406.0" r="8.95" fill="#1a1a1a"/>
<circle cx="1158.0" cy="1407.0" r="8.95" fill="#1a1a1a"/>
<circle cx="1256.0" cy="1425.5" r="6.95" fill="#fff" stroke="#1a1a1a" stroke-width="4.1"/>
<circle cx="1256.0" cy="1413.0" r="6.95" fill="#fff" stroke="#1a1a1a" stroke-width="4.1"/>
<circle cx="1394.0" cy="1255.4" r="6.95" fill="#fff" stroke="#1a1a1a" stroke-width="4.1"/>
<circle cx="1447.6" cy="1270.6" r="6.95" fill="#fff" stroke="#1a1a1a" stroke-width="4.1"/>
<circle cx="1355.4" cy="1278.4" r="6.95" fill="#fff" stroke="#1a1a1a" stroke-width="4.1"/>
<circle cx="1339.6" cy="1324.6" r="6.95" fill="#fff" stroke="#1a1a1a" stroke-width="4.1"/>
<circle cx="1355.6" cy="1329.0" r="6.95" fill="#fff" stroke="#1a1a1a" stroke-width="4.1"/>
<circle cx="1320.0" cy="1346.0" r="6.95" fill="#fff" stroke="#1a1a1a" stroke-width="4.1"/>
<circle cx="1304.0" cy="1359.6" r="6.95" fill="#fff" stroke="#1a1a1a" stroke-width="4.1"/>
<circle cx="1315.6" cy="1361.4" r="6.95" fill="#fff" stroke="#1a1a1a" stroke-width="4.1"/>
<circle cx="1289.4" cy="1375.0" r="6.95" fill="#fff" stroke="#1a1a1a" stroke-width="4.1"/>
<circle cx="1261.6" cy="1379.6" r="6.95" fill="#fff" stroke="#1a1a1a" stroke-width="4.1"/>
<circle cx="1268.0" cy="1389.0" r="6.95" fill="#fff" stroke="#1a1a1a" stroke-width="4.1"/>
<circle cx="1283.0" cy="1396.6" r="6.95" fill="#fff" stroke="#1a1a1a" stroke-width="4.1"/>
<circle cx="1335.0" cy="1376.6" r="6.95" fill="#fff" stroke="#1a1a1a" stroke-width="4.1"/>
<circle cx="1327.0" cy="1386.0" r="6.95" fill="#fff" stroke="#1a1a1a" stroke-width="4.1"/>
<circle cx="1321.6" cy="1401.6" r="6.95" fill="#fff" stroke="#1a1a1a" stroke-width="4.1"/>
<circle cx="1363.0" cy="1359.0" r="6.95" fill="#fff" stroke="#1a1a1a" stroke-width="4.1"/>
<circle cx="1369.0" cy="1370.0" r="6.95" fill="#fff" stroke="#1a1a1a" stroke-width="4.1"/>
<circle cx="1368.0" cy="1381.0" r="6.95" fill="#fff" stroke="#1a1a1a" stroke-width="4.1"/>
<circle cx="1381.6" cy="1390.6" r="6.95" fill="#fff" stroke="#1a1a1a" stroke-width="4.1"/>
<circle cx="1432.4" cy="1405.6" r="6.95" fill="#fff" stroke="#1a1a1a" stroke-width="4.1"/>
<circle cx="1490.6" cy="1226.4" r="6.95" fill="#fff" stroke="#1a1a1a" stroke-width="4.1"/>
<circle cx="1529.0" cy="1223.0" r="6.95" fill="#fff" stroke="#1a1a1a" stroke-width="4.1"/>
<circle cx="1532.0" cy="1246.4" r="6.95" fill="#fff" stroke="#1a1a1a" stroke-width="4.1"/>
<circle cx="1508.6" cy="1321.0" r="6.95" fill="#fff" stroke="#1a1a1a" stroke-width="4.1"/>
<circle cx="1520.0" cy="1330.6" r="6.95" fill="#fff" stroke="#1a1a1a" stroke-width="4.1"/>
<circle cx="1357.0" cy="1456.4" r="6.95" fill="#fff" stroke="#1a1a1a" stroke-width="4.1"/>
<line x1="1050" y1="1598.00" x2="1535.8" y2="1226.00" stroke="#1a1a1a" stroke-width="7.9"/>
<rect x="963.60" y="1210.00" width="652.30" height="418.60" fill="none" stroke="#1a1a1a" stroke-width="4.2"/>
<path d="M963.60 1628.60v6.8M1045.14 1628.60v6.8M1126.67 1628.60v6.8M1208.21 1628.60v6.8M1289.75 1628.60v6.8M1371.29 1628.60v6.8M1452.83 1628.60v6.8M1534.36 1628.60v6.8M1615.90 1628.60v6.8M963.60 1628.60h-6.8M963.60 1568.80h-6.8M963.60 1509.00h-6.8M963.60 1449.20h-6.8M963.60 1389.40h-6.8M963.60 1329.60h-6.8M963.60 1269.80h-6.8M963.60 1210.00h-6.8" stroke="#1a1a1a" stroke-width="4.2" fill="none"/>
<text transform="translate(955.56,1673.60) scale(1,1.04)" font-size="36" text-anchor="start">0</text>
<text transform="translate(1101.20,1673.60) scale(1,1.04)" font-size="36" text-anchor="start">200</text>
<text transform="translate(1263.19,1673.60) scale(1,1.04)" font-size="36" text-anchor="start">400</text>
<text transform="translate(1427.70,1673.60) scale(1,1.04)" font-size="36" text-anchor="start">600</text>
<text transform="translate(1589.47,1673.60) scale(1,1.04)" font-size="36" text-anchor="start">800</text>
<text transform="translate(956.20,1280.10) scale(1,1.04)" font-size="36" text-anchor="end">0.3</text>
<text transform="translate(956.20,1398.00) scale(1,1.04)" font-size="36" text-anchor="end">0.2</text>
<text transform="translate(956.20,1518.90) scale(1,1.04)" font-size="36" text-anchor="end">0.1</text>
<text transform="translate(956.20,1639.40) scale(1,1.04)" font-size="36" text-anchor="end">0.0</text>
</g>
<text transform="translate(6.30,31.00)" font-size="37" text-anchor="start" font-weight="bold" class="b">a)</text>
<text transform="translate(845.00,31.00)" font-size="37" text-anchor="start" font-weight="bold" class="b">b)</text>
<text transform="translate(6.30,630.10)" font-size="37" text-anchor="start" font-weight="bold" class="b">c)</text>
<text transform="translate(845.00,630.10)" font-size="37" text-anchor="start" font-weight="bold" class="b">d)</text>
<text transform="translate(6.30,1228.60)" font-size="37" text-anchor="start" font-weight="bold" class="b">e)</text>
<text transform="translate(845.00,1228.60)" font-size="37" text-anchor="start" font-weight="bold" class="b">f)</text>
<text transform="translate(105.54,48.80) scale(1,1.04)" font-size="31" text-anchor="start">R</text>
<text transform="translate(128.00,34.50) scale(1,1.04)" font-size="17" text-anchor="start">2</text>
<text transform="translate(152.05,48.80) scale(1,1.04)" font-size="31" text-anchor="start">= 0.590</text>
<text transform="translate(105.64,85.70) scale(1,1.04)" font-size="31" text-anchor="start">F</text>
<text transform="translate(117.42,93.70) scale(1,1.04)" font-size="17" text-anchor="start">1,10</text>
<text transform="translate(152.05,85.70) scale(1,1.04)" font-size="31" text-anchor="start">= 76.2</text>
<text transform="translate(106.67,123.00) scale(1,1.04)" font-size="31" text-anchor="start" font-style="italic">P</text>
<text transform="translate(152.05,123.00) scale(1,1.04)" font-size="31" text-anchor="start">= 7.8 x 10</text>
<text transform="translate(289.37,104.40) scale(1,1.04)" font-size="17" text-anchor="start">-12</text>
<text transform="translate(1399.24,48.70) scale(1,1.04)" font-size="31" text-anchor="start">R</text>
<text transform="translate(1421.70,34.40) scale(1,1.04)" font-size="17" text-anchor="start">2</text>
<text transform="translate(1445.75,48.70) scale(1,1.04)" font-size="31" text-anchor="start">= 0.625</text>
<text transform="translate(1399.34,85.40) scale(1,1.04)" font-size="31" text-anchor="start">F</text>
<text transform="translate(1411.12,93.40) scale(1,1.04)" font-size="17" text-anchor="start">1,10</text>
<text transform="translate(1445.75,85.40) scale(1,1.04)" font-size="31" text-anchor="start">= 88.2</text>
<text transform="translate(1400.37,123.20) scale(1,1.04)" font-size="31" text-anchor="start" font-style="italic">P</text>
<text transform="translate(1445.75,123.20) scale(1,1.04)" font-size="31" text-anchor="start">= 7.2 x 10</text>
<text transform="translate(1583.07,104.60) scale(1,1.04)" font-size="17" text-anchor="start">-13</text>
<text transform="translate(105.64,648.20) scale(1,1.04)" font-size="31" text-anchor="start">R</text>
<text transform="translate(128.10,633.90) scale(1,1.04)" font-size="17" text-anchor="start">2</text>
<text transform="translate(152.15,648.20) scale(1,1.04)" font-size="31" text-anchor="start">= 0.512</text>
<text transform="translate(105.74,685.20) scale(1,1.04)" font-size="31" text-anchor="start">F</text>
<text transform="translate(117.52,693.20) scale(1,1.04)" font-size="17" text-anchor="start">1,10</text>
<text transform="translate(152.15,685.20) scale(1,1.04)" font-size="31" text-anchor="start">= 55.6</text>
<text transform="translate(106.77,722.60) scale(1,1.04)" font-size="31" text-anchor="start" font-style="italic">P</text>
<text transform="translate(152.15,722.60) scale(1,1.04)" font-size="31" text-anchor="start">= 8.3 x 10</text>
<text transform="translate(289.47,704.00) scale(1,1.04)" font-size="17" text-anchor="start">-10</text>
<text transform="translate(975.34,648.20) scale(1,1.04)" font-size="31" text-anchor="start">R</text>
<text transform="translate(997.80,633.90) scale(1,1.04)" font-size="17" text-anchor="start">2</text>
<text transform="translate(1021.85,648.20) scale(1,1.04)" font-size="31" text-anchor="start">= 0.588</text>
<text transform="translate(975.44,685.20) scale(1,1.04)" font-size="31" text-anchor="start">F</text>
<text transform="translate(987.23,693.20) scale(1,1.04)" font-size="17" text-anchor="start">1,10</text>
<text transform="translate(1021.85,685.20) scale(1,1.04)" font-size="31" text-anchor="start">= 75.6</text>
<text transform="translate(976.47,722.60) scale(1,1.04)" font-size="31" text-anchor="start" font-style="italic">P</text>
<text transform="translate(1021.85,722.60) scale(1,1.04)" font-size="31" text-anchor="start">= 8.8 x 10</text>
<text transform="translate(1159.17,704.00) scale(1,1.04)" font-size="17" text-anchor="start">-12</text>
<text transform="translate(105.64,1246.40) scale(1,1.04)" font-size="31" text-anchor="start">R</text>
<text transform="translate(128.10,1232.10) scale(1,1.04)" font-size="17" text-anchor="start">2</text>
<text transform="translate(152.15,1246.40) scale(1,1.04)" font-size="31" text-anchor="start">= 0.508</text>
<text transform="translate(105.74,1283.60) scale(1,1.04)" font-size="31" text-anchor="start">F</text>
<text transform="translate(117.52,1291.60) scale(1,1.04)" font-size="17" text-anchor="start">1,10</text>
<text transform="translate(152.15,1283.60) scale(1,1.04)" font-size="31" text-anchor="start">= 54.7</text>
<text transform="translate(106.77,1321.20) scale(1,1.04)" font-size="31" text-anchor="start" font-style="italic">P</text>
<text transform="translate(152.15,1321.20) scale(1,1.04)" font-size="31" text-anchor="start">= 1.0 x 10</text>
<text transform="translate(289.47,1302.60) scale(1,1.04)" font-size="17" text-anchor="start">-9</text>
<text transform="translate(975.44,1246.40) scale(1,1.04)" font-size="31" text-anchor="start">R</text>
<text transform="translate(997.90,1232.10) scale(1,1.04)" font-size="17" text-anchor="start">2</text>
<text transform="translate(1021.95,1246.40) scale(1,1.04)" font-size="31" text-anchor="start">= 0.796</text>
<text transform="translate(975.54,1284.00) scale(1,1.04)" font-size="31" text-anchor="start">F</text>
<text transform="translate(987.33,1292.00) scale(1,1.04)" font-size="17" text-anchor="start">1,10</text>
<text transform="translate(1021.95,1284.00) scale(1,1.04)" font-size="31" text-anchor="start">= 203.7</text>
<text transform="translate(976.57,1321.20) scale(1,1.04)" font-size="31" text-anchor="start" font-style="italic">P</text>
<text transform="translate(1021.95,1321.20) scale(1,1.04)" font-size="31" text-anchor="start">= 6.2 x 10</text>
<text transform="translate(1159.27,1302.60) scale(1,1.04)" font-size="17" text-anchor="start">-20</text>
<text transform="translate(36.00,221.90) rotate(-90)" font-size="37" xml:space="preserve">
<tspan x="-135.84" y="0" font-style="italic">P</tspan>
<tspan x="-114.56" y="12.0" font-size="24.5">N</tspan>
<tspan x="-93.47" y="0"> (µmol m</tspan>
<tspan x="51.17" y="-18.2" font-size="24.5">-2</tspan>
<tspan x="72.96" y="0"> s</tspan>
<tspan x="101.74" y="-18.2" font-size="24.5">-1</tspan>
<tspan x="123.52" y="0">)</tspan>
</text>
<text transform="translate(881.90,221.90) rotate(-90)" font-size="37" xml:space="preserve">
<tspan x="-135.84" y="0" font-style="italic">P</tspan>
<tspan x="-114.56" y="12.0" font-size="24.5">N</tspan>
<tspan x="-93.47" y="0"> (µmol m</tspan>
<tspan x="51.17" y="-18.2" font-size="24.5">-2</tspan>
<tspan x="72.96" y="0"> s</tspan>
<tspan x="101.74" y="-18.2" font-size="24.5">-1</tspan>
<tspan x="123.52" y="0">)</tspan>
</text>
<text transform="translate(36.00,822.90) rotate(-90)" font-size="37" xml:space="preserve">
<tspan x="-135.84" y="0" font-style="italic">P</tspan>
<tspan x="-114.56" y="12.0" font-size="24.5">N</tspan>
<tspan x="-93.47" y="0"> (µmol m</tspan>
<tspan x="51.17" y="-18.2" font-size="24.5">-2</tspan>
<tspan x="72.96" y="0"> s</tspan>
<tspan x="101.74" y="-18.2" font-size="24.5">-1</tspan>
<tspan x="123.52" y="0">)</tspan>
</text>
<text transform="translate(881.90,822.90) rotate(-90)" font-size="37" xml:space="preserve">
<tspan x="-135.84" y="0" font-style="italic">P</tspan>
<tspan x="-114.56" y="12.0" font-size="24.5">N</tspan>
<tspan x="-93.47" y="0"> (µmol m</tspan>
<tspan x="51.17" y="-18.2" font-size="24.5">-2</tspan>
<tspan x="72.96" y="0"> s</tspan>
<tspan x="101.74" y="-18.2" font-size="24.5">-1</tspan>
<tspan x="123.52" y="0">)</tspan>
</text>
<text transform="translate(36.00,1420.60) rotate(-90)" font-size="37" xml:space="preserve">
<tspan x="-135.84" y="0" font-style="italic">P</tspan>
<tspan x="-114.56" y="12.0" font-size="24.5">N</tspan>
<tspan x="-93.47" y="0"> (µmol m</tspan>
<tspan x="51.17" y="-18.2" font-size="24.5">-2</tspan>
<tspan x="72.96" y="0"> s</tspan>
<tspan x="101.74" y="-18.2" font-size="24.5">-1</tspan>
<tspan x="123.52" y="0">)</tspan>
</text>
<text transform="translate(882.40,1430.40) rotate(-90)" font-size="37" xml:space="preserve">
<tspan x="-49.72" y="0">ΦPSII</tspan>
</text>
<text transform="translate(295.45,530.20)" font-size="37" xml:space="preserve">
<tspan x="0.00" y="0" font-style="italic">G</tspan>
<tspan x="28.78" y="10.7" font-size="24.5">S</tspan>
<tspan x="46.52" y="0"> (mmol m</tspan>
<tspan x="200.67" y="-18.2" font-size="24.5">-2</tspan>
<tspan x="222.45" y="0"> s</tspan>
<tspan x="251.23" y="-18.2" font-size="24.5">-1</tspan>
<tspan x="273.02" y="0">)</tspan>
</text>
<text transform="translate(1138.49,530.30)" font-size="37" xml:space="preserve">
<tspan x="0.00" y="0" font-style="italic">R</tspan>
<tspan x="26.72" y="10.7" font-size="24.5">light</tspan>
<tspan x="75.57" y="0"> (µmol m</tspan>
<tspan x="220.21" y="-18.2" font-size="24.5">-2</tspan>
<tspan x="242.00" y="0"> s</tspan>
<tspan x="270.78" y="-18.2" font-size="24.5">-1</tspan>
<tspan x="292.56" y="0">)</tspan>
</text>
<text transform="translate(366.97,1119.70)" font-size="37" xml:space="preserve">
<tspan x="0.00" y="0">ΦPSII</tspan>
</text>
<text transform="translate(1251.45,1119.70)" font-size="37" xml:space="preserve">
<tspan x="0.00" y="0">NPQ</tspan>
</text>
<text transform="translate(208.63,1724.70)" font-size="36.8" xml:space="preserve">
<tspan x="0.00" y="0">chlorophyll content (mg m</tspan>
<tspan x="421.34" y="-18.2" font-size="24.5">-2</tspan>
<tspan x="443.13" y="0">)</tspan>
</text>
<text transform="translate(1070.23,1724.70)" font-size="36.8" xml:space="preserve">
<tspan x="0.00" y="0">chlorophyll content (mg m</tspan>
<tspan x="421.34" y="-18.2" font-size="24.5">-2</tspan>
<tspan x="443.13" y="0">)</tspan>
</text>
</svg>
</body></html>
